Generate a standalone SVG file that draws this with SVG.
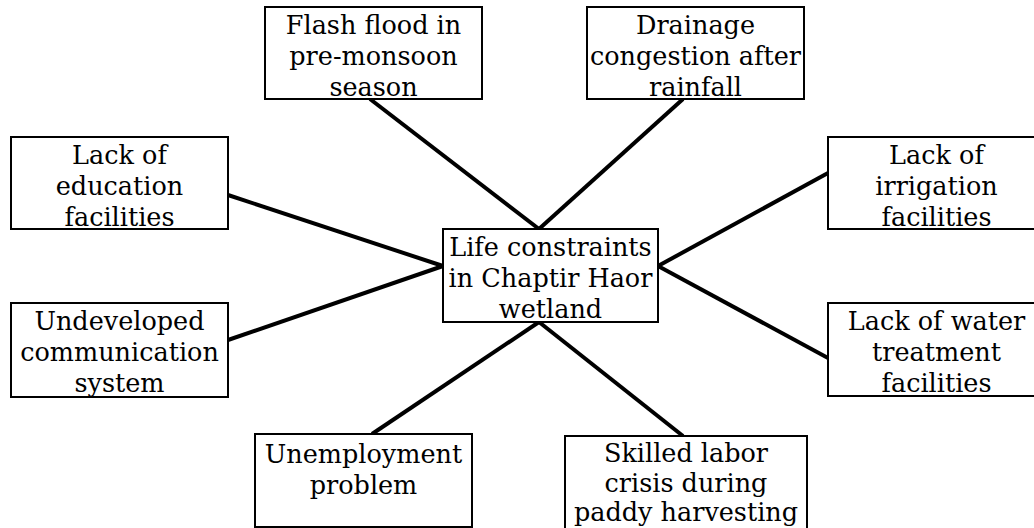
<svg xmlns="http://www.w3.org/2000/svg" width="1034" height="528" viewBox="0 0 1034 528">
<style>
.box{fill:#fff;stroke:#000;stroke-width:2}
.lbl{font-family:"DejaVu Serif","Liberation Serif",serif;font-size:25.5px;fill:#000;text-anchor:middle}
.con{stroke:#000;stroke-width:4;fill:none;stroke-linecap:butt}
</style>
<rect width="1034" height="528" fill="#fff"/>
<g id="connectors">
<line class="con" x1="370" y1="99" x2="539" y2="229"/>
<line class="con" x1="683" y1="99" x2="539" y2="229"/>
<line class="con" x1="228" y1="195" x2="443" y2="266"/>
<line class="con" x1="228" y1="340" x2="443" y2="266"/>
<line class="con" x1="828" y1="173" x2="658" y2="266"/>
<line class="con" x1="828" y1="358" x2="658" y2="266"/>
<line class="con" x1="372" y1="434" x2="539" y2="322"/>
<line class="con" x1="683" y1="436" x2="539" y2="322"/>
</g>
<g id="center">
<rect class="box" x="443" y="229" width="215" height="93"/>
<text class="lbl"><tspan x="550.5" y="256">Life constraints</tspan><tspan x="550.5" y="287">in Chaptir Haor</tspan><tspan x="550.5" y="318">wetland</tspan></text>
</g>
<g id="flash">
<rect class="box" x="265" y="7" width="217" height="92"/>
<text class="lbl"><tspan x="373.5" y="34">Flash flood in</tspan><tspan x="373.5" y="65">pre-monsoon</tspan><tspan x="373.5" y="96">season</tspan></text>
</g>
<g id="drainage">
<rect class="box" x="587" y="7" width="217" height="92"/>
<text class="lbl"><tspan x="695.5" y="34">Drainage</tspan><tspan x="695.5" y="65">congestion after</tspan><tspan x="695.5" y="96">rainfall</tspan></text>
</g>
<g id="education">
<rect class="box" x="11" y="137" width="217" height="92"/>
<text class="lbl"><tspan x="119.5" y="164">Lack of</tspan><tspan x="119.5" y="195">education</tspan><tspan x="119.5" y="226">facilities</tspan></text>
</g>
<g id="irrigation">
<rect class="box" x="828" y="137" width="217" height="92"/>
<text class="lbl"><tspan x="936.5" y="164">Lack of</tspan><tspan x="936.5" y="195">irrigation</tspan><tspan x="936.5" y="226">facilities</tspan></text>
</g>
<g id="communication">
<rect class="box" x="11" y="303" width="217" height="94"/>
<text class="lbl"><tspan x="119.5" y="330">Undeveloped</tspan><tspan x="119.5" y="361">communication</tspan><tspan x="119.5" y="392">system</tspan></text>
</g>
<g id="water">
<rect class="box" x="828" y="303" width="217" height="93"/>
<text class="lbl"><tspan x="936.5" y="330">Lack of water</tspan><tspan x="936.5" y="361">treatment</tspan><tspan x="936.5" y="392">facilities</tspan></text>
</g>
<g id="unemployment">
<rect class="box" x="255" y="434" width="217" height="93"/>
<text class="lbl"><tspan x="363.5" y="463">Unemployment</tspan><tspan x="363.5" y="494">problem</tspan></text>
</g>
<g id="skilled">
<rect class="box" x="565" y="436" width="242" height="100"/>
<text class="lbl"><tspan x="686" y="462">Skilled labor</tspan><tspan x="686" y="492">crisis during</tspan><tspan x="686" y="521">paddy harvesting</tspan></text>
</g>
</svg>
